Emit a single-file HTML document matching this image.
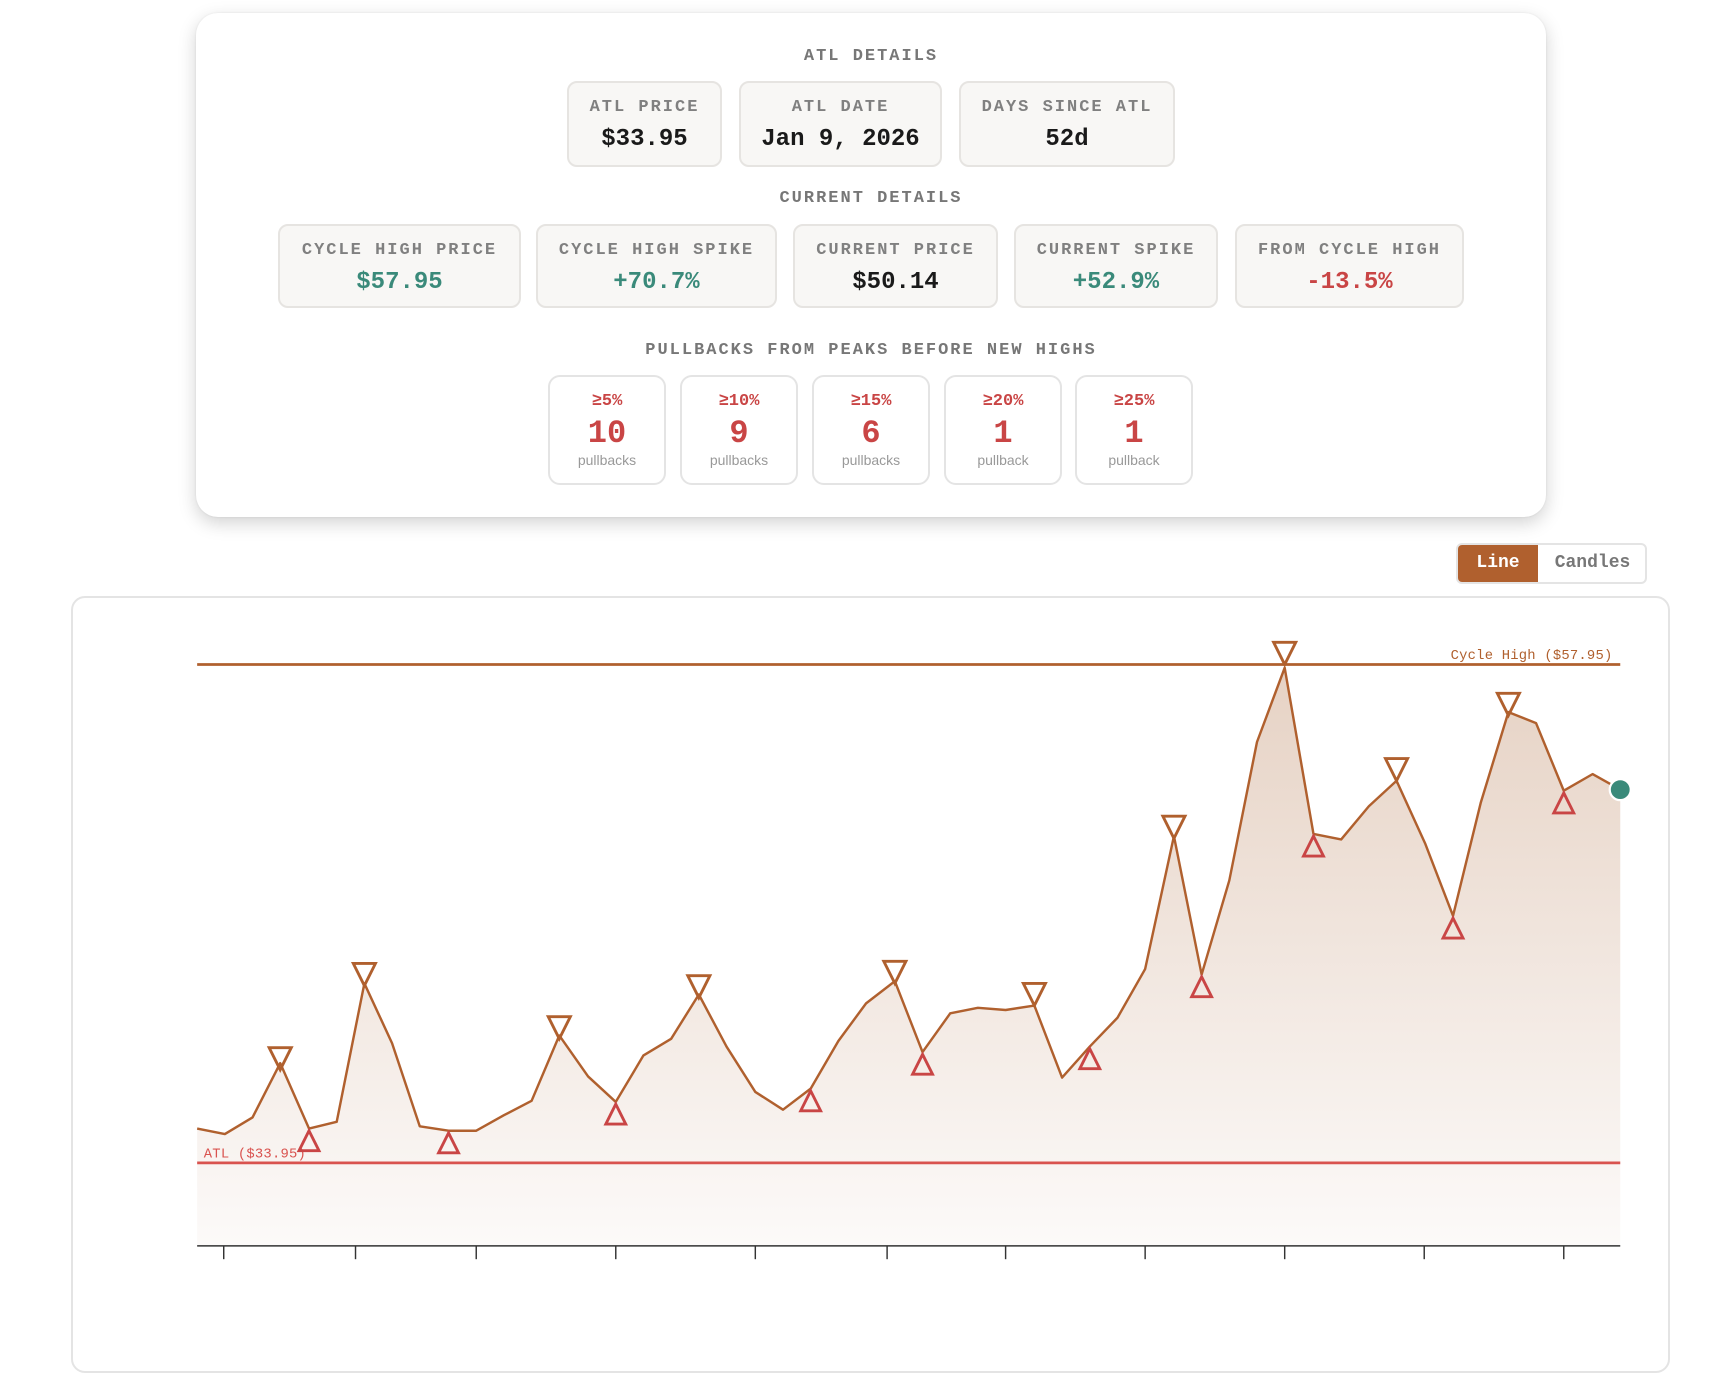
<!DOCTYPE html>
<html><head><meta charset="utf-8"><style>
*{box-sizing:border-box;margin:0;padding:0}
body{width:1736px;height:1384px;background:#fff;position:relative;overflow:hidden;font-family:"Liberation Mono",monospace}
.card{position:absolute;left:196px;top:13px;width:1350px;height:504px;background:#fff;border-radius:22px;box-shadow:0 6px 18px rgba(0,0,0,.18),0 0 2px rgba(0,0,0,.08)}
.t{position:absolute;left:0;width:1742px;text-align:center;font-size:17px;letter-spacing:2px;color:#777;font-weight:bold}
.b{position:absolute;background:#f8f7f5;border:2px solid #e6e4e1;border-radius:10px;text-align:center}
.b .l{font-size:17px;letter-spacing:2px;color:#808080;font-weight:bold;margin-top:15px}
.b .v{font-size:24px;font-weight:bold;color:#1a1a1a;margin-top:9px}
.p{position:absolute;top:375px;height:110px;width:118px;border:2px solid #e4e4e4;border-radius:12px;background:#fff;text-align:center;color:#c94545}
.p .a{font-size:17px;font-weight:bold;margin-top:15px}
.p .n{font-size:32px;font-weight:bold;line-height:36px;margin-top:5px}
.p .s{font-family:"Liberation Sans",sans-serif;font-size:14px;color:#999;margin-top:0}
.g{color:#3a8a7a!important}.r{color:#c94545!important}
.tog{position:absolute;left:1456px;top:543px;width:191px;height:41px;border:2px solid #e4e4e4;border-radius:6px;overflow:hidden;font-size:18px;font-weight:bold}
.tog div{position:absolute;top:0;height:41px;line-height:37px;text-align:center}
.chart{position:absolute;left:71px;top:596px;width:1599px;height:777px;border:2px solid #e4e4e4;border-radius:14px}
svg{position:absolute;left:0;top:0}
</style></head><body>
<div class="card"></div>
<div class="t" style="top:47px">ATL DETAILS</div>
<div class="b" style="left:567px;top:81px;width:155px;height:86px"><div class="l">ATL PRICE</div><div class="v">$33.95</div></div>
<div class="b" style="left:739px;top:81px;width:203px;height:86px"><div class="l">ATL DATE</div><div class="v">Jan 9, 2026</div></div>
<div class="b" style="left:959px;top:81px;width:216px;height:86px"><div class="l">DAYS SINCE ATL</div><div class="v">52d</div></div>
<div class="t" style="top:189px">CURRENT DETAILS</div>
<div class="b" style="left:278px;top:224px;width:243px;height:84px"><div class="l">CYCLE HIGH PRICE</div><div class="v g">$57.95</div></div>
<div class="b" style="left:536px;top:224px;width:241px;height:84px"><div class="l">CYCLE HIGH SPIKE</div><div class="v g">+70.7%</div></div>
<div class="b" style="left:793px;top:224px;width:205px;height:84px"><div class="l">CURRENT PRICE</div><div class="v">$50.14</div></div>
<div class="b" style="left:1014px;top:224px;width:204px;height:84px"><div class="l">CURRENT SPIKE</div><div class="v g">+52.9%</div></div>
<div class="b" style="left:1235px;top:224px;width:229px;height:84px"><div class="l">FROM CYCLE HIGH</div><div class="v r">-13.5%</div></div>
<div class="t" style="top:341px">PULLBACKS FROM PEAKS BEFORE NEW HIGHS</div>
<div class="p" style="left:548px"><div class="a">≥5%</div><div class="n">10</div><div class="s">pullbacks</div></div>
<div class="p" style="left:680px"><div class="a">≥10%</div><div class="n">9</div><div class="s">pullbacks</div></div>
<div class="p" style="left:812px"><div class="a">≥15%</div><div class="n">6</div><div class="s">pullbacks</div></div>
<div class="p" style="left:944px"><div class="a">≥20%</div><div class="n">1</div><div class="s">pullback</div></div>
<div class="p" style="left:1075px"><div class="a">≥25%</div><div class="n">1</div><div class="s">pullback</div></div>
<div class="tog"><div style="left:0;width:80px;background:#b0602e;color:#fff">Line</div><div style="left:80px;width:109px;color:#777">Candles</div></div>
<div class="chart"></div>
<svg width="1736" height="1384" viewBox="0 0 1567.5 1249.7">
<defs><linearGradient id="gr" x1="0" y1="600" x2="0" y2="1125" gradientUnits="userSpaceOnUse"><stop offset="0" stop-color="#e6d2c4"/><stop offset="1" stop-color="#fcfaf9"/></linearGradient></defs>
<path fill="url(#gr)" d="M178,1019 L203,1024 228,1009 253,960 279,1019 304,1013 329,888 354,942 379,1017 405,1021 430,1021 455,1007 480,994 505,935 531,972 556,995 581,953 606,938 631,898 656,945 682,986 707,1002 732,983 757,940 782,906 808,886 833,950 858,915 883,910 908,912 934,908 959,973 984,945 1009,919 1034,875 1060,755 1085,880 1110,795 1135,670 1160,603 1186,753 1211,758 1236,728 1261,705 1287,762 1312,827 1337,725 1362,643 1387,653 1412,714 1438,699 1463,713 L1463,1125 L178,1125 Z"/>
<line x1="178" y1="600" x2="1463" y2="600" stroke="#b0602e" stroke-width="2.5"/>
<line x1="178" y1="1050" x2="1463" y2="1050" stroke="#d9534f" stroke-width="2.5"/>
<text x="1456" y="595" text-anchor="end" font-family="Liberation Mono,monospace" font-size="12.5" fill="#b0602e" letter-spacing="0.2">Cycle High ($57.95)</text>
<text x="184" y="1045" font-family="Liberation Mono,monospace" font-size="12.5" fill="#d9534f" letter-spacing="0.2">ATL ($33.95)</text>
<polyline fill="none" stroke="#b0602e" stroke-width="2.2" stroke-linejoin="round" points="178,1019 203,1024 228,1009 253,960 279,1019 304,1013 329,888 354,942 379,1017 405,1021 430,1021 455,1007 480,994 505,935 531,972 556,995 581,953 606,938 631,898 656,945 682,986 707,1002 732,983 757,940 782,906 808,886 833,950 858,915 883,910 908,912 934,908 959,973 984,945 1009,919 1034,875 1060,755 1085,880 1110,795 1135,670 1160,603 1186,753 1211,758 1236,728 1261,705 1287,762 1312,827 1337,725 1362,643 1387,653 1412,714 1438,699 1463,713"/>
<g fill="none" stroke="#b0602e" stroke-width="2.6">
<path d="M243,946h20l-10,20z"/><path d="M319,870h20l-10,20z"/><path d="M495,918h20l-10,20z"/><path d="M621,881h20l-10,20z"/><path d="M798,868h20l-10,20z"/><path d="M924,888h20l-10,20z"/><path d="M1050,737h20l-10,20z"/><path d="M1150,580h20l-10,20z"/><path d="M1251,685h20l-10,20z"/><path d="M1352,626h20l-10,20z"/>
</g>
<g fill="none" stroke="#c94545" stroke-width="2.6">
<path d="M279,1021l9,18h-18z"/><path d="M405,1023l9,18h-18z"/><path d="M556,997l9,18h-18z"/><path d="M732,985l9,18h-18z"/><path d="M833,952l9,18h-18z"/><path d="M984,947l9,18h-18z"/><path d="M1085,882l9,18h-18z"/><path d="M1186,755l9,18h-18z"/><path d="M1312,829l9,18h-18z"/><path d="M1412,716l9,18h-18z"/>
</g>
<circle cx="1463" cy="713" r="9.5" fill="#3a8a7a" stroke="#fff" stroke-width="2"/>
<line x1="178" y1="1125" x2="1463" y2="1125" stroke="#333" stroke-width="1.3"/>
<g stroke="#333" stroke-width="1.3">
<line x1="202" y1="1125" x2="202" y2="1137"/><line x1="321" y1="1125" x2="321" y2="1137"/><line x1="430" y1="1125" x2="430" y2="1137"/><line x1="556" y1="1125" x2="556" y2="1137"/><line x1="682" y1="1125" x2="682" y2="1137"/><line x1="801" y1="1125" x2="801" y2="1137"/><line x1="908" y1="1125" x2="908" y2="1137"/><line x1="1034" y1="1125" x2="1034" y2="1137"/><line x1="1160" y1="1125" x2="1160" y2="1137"/><line x1="1286" y1="1125" x2="1286" y2="1137"/><line x1="1412" y1="1125" x2="1412" y2="1137"/>
</g>
</svg>
</body></html>
